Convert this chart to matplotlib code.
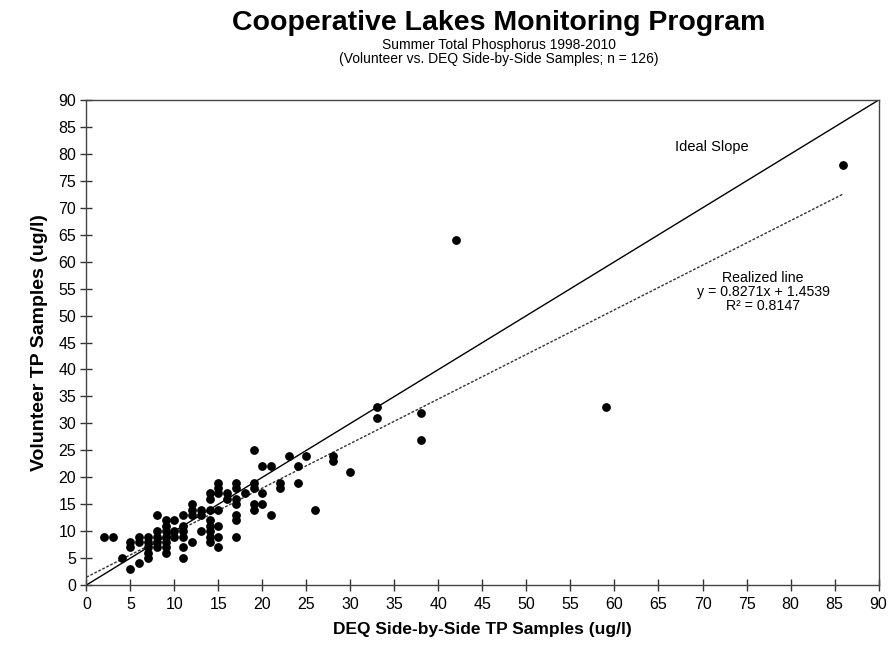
import numpy as np
import matplotlib.pyplot as plt

plt.rcParams['font.family'] = ['Liberation Sans', 'DejaVu Sans']

# DEQ side-by-side TP samples (ug/l) and matching volunteer samples
deq = [2, 3, 4, 5, 5, 5, 6, 6, 6, 7, 7, 7, 7, 7,
       8, 8, 8, 8, 8, 9, 9, 9, 9, 9, 9, 9, 10, 10, 10,
       11, 11, 11, 11, 11, 11, 12, 12, 12, 12, 13, 13, 13,
       14, 14, 14, 14, 14, 14, 14, 14,
       15, 15, 15, 15, 15, 15, 15, 16, 16,
       17, 17, 17, 17, 17, 17, 17, 18,
       19, 19, 19, 19, 19, 20, 20, 20, 21, 21, 22, 22,
       23, 24, 24, 25, 26, 28, 28, 30, 33, 33, 38, 38, 42, 59, 86]
vol = [9, 9, 5, 8, 7, 3, 9, 8, 4, 9, 8, 7, 6, 5,
       13, 10, 9, 8, 7, 12, 11, 10, 9, 8, 7, 6, 12, 10, 9,
       13, 11, 10, 9, 7, 5, 15, 14, 13, 8, 14, 13, 10,
       17, 16, 14, 12, 11, 10, 9, 8,
       19, 18, 17, 14, 11, 9, 7, 17, 16,
       19, 18, 16, 15, 13, 12, 9, 17,
       25, 19, 18, 15, 14, 22, 17, 15, 22, 13, 19, 18,
       24, 22, 19, 24, 14, 24, 23, 21, 33, 31, 32, 27, 64, 33, 78]

slope = 0.8271
intercept = 1.4539
r2 = 0.8147

fig = plt.figure(figsize=(8.91, 6.5), dpi=100)
ax = fig.add_axes([0.097, 0.1, 0.889, 0.746])

ax.scatter(deq, vol, s=28, color='black', zorder=3)

# ideal 1:1 line
ideal = np.array([0, 90])
ax.plot(ideal, ideal, color='black', lw=1)

# realized regression line
xf = np.array([0, max(deq)])
ax.plot(xf, slope * xf + intercept, color='#333333', lw=1, ls=(0, (2, 1.2)))

ax.set_xlim(0, 90)
ax.set_ylim(0, 90)
ax.set_xticks(range(0, 91, 5))
ax.set_yticks(range(0, 91, 5))
ax.tick_params(labelsize=11.5, length=9, width=1, color='#333333', direction='inout')
ax.tick_params(axis='x', pad=4)
ax.tick_params(axis='y', pad=3)
for s in ax.spines.values():
    s.set_color('#444444')
    s.set_linewidth(1)

ax.set_xlabel('DEQ Side-by-Side TP Samples (ug/l)', fontsize=12.5, fontweight='bold', labelpad=7)
ax.set_ylabel('Volunteer TP Samples (ug/l)', fontsize=14, fontweight='bold', labelpad=7)

ax.text(71.1, 81.3, 'Ideal Slope', fontsize=10.5, ha='center', va='center')
ax.text(76.9, 54.3, 'Realized line\ny = %.4fx + %.4f\nR² = %.4f' % (slope, intercept, r2),
        fontsize=10.2, ha='center', va='center', linespacing=1.0)

fig.text(0.56, 0.965, 'Cooperative Lakes Monitoring Program', fontsize=20.5, fontweight='bold',
         ha='center', va='center')
fig.text(0.56, 0.931, 'Summer Total Phosphorus 1998-2010', fontsize=10, ha='center', va='center')
fig.text(0.56, 0.91, '(Volunteer vs. DEQ Side-by-Side Samples; n = 126)', fontsize=10,
         ha='center', va='center')

fig.savefig('out.png', dpi=100)
